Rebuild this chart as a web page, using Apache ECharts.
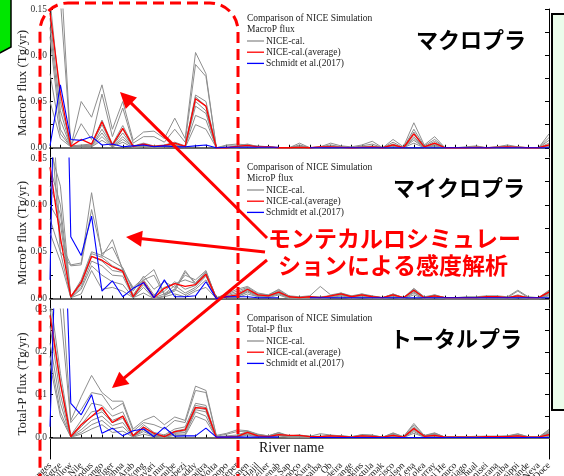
<!DOCTYPE html>
<html><head><meta charset="utf-8">
<script src="https://cdn.jsdelivr.net/npm/echarts@6/dist/echarts.min.js"></script>
<style>html,body{margin:0;padding:0;background:#fff}#c{width:564px;height:476px}</style>
</head><body><div id="c"></div>
<script>
const rivers = ["Ganges","Yangtze","Yellow","Nile","Indus","Congo","Niger","Meghna","Shatt al-Arab","Mekong","Godavari","Amur","Danube","Zambezi","Irrawaddy","Brahmaputra","Volta","Limpopo","Dnieper","Tumen","Hajil","Keller","Chenab","Tonle Sap","Orinoco","Kura","Parnaiba","Ob","Madeira","Orange","Hopkins","Vistula","Kizilirmak","San Francisco","Nelson","Lena","Kolea","Murray","Hai He","Panuco","Santiago","Chual","Yenisei","Parana","Paraiba","Mississippi","Rio Grande","Neva","Rio Doce"];

// MacroP flux (Tg/yr)
const macroSims = [
 [.22,.20,.001,.050,.033,.068,.020,.050,.008,.017,.018,.010,.032,.010,.103,.080,0,.003,.004,.003,.002,.001,0, 0,.005,0,.001,.005,.002,.001,.003,.007,0,.009,.001,.027,.003,.012,0,0,.001,.002,0,.001,.003,.001,0,0,.015],
 [.19,.16,.002,.026,.009,.058,.012,.043,.005,.012,.012,.006,.020,.006,.090,.077,0,.002,.002,.002,.001,.001,0, 0,.003,0,.001,.003,.001,0,.002,.004,0,.006,0,.020,.002,.009,0,0,0,.001,0,.001,.002,.001,0,0,.011],
 [.16,.05,.002,.003,.004,.030,.004,.024,.002,.005,.002,.003,.006,.002,.057,.050,0,0,.002,.004,.001,.001,0, 0,.002,0,0,.002,.001,0,.001,.002,0,.004,0,.017,.001,.007,0,0,0,.001,0,0,.001,0,0,0,.008],
 [.14,.04,.001,.002,.003,.025,.002,.020,.001,.004,.001,.002,.004,.001,.055,.045,0,0,.001,.002,.001,0,0, 0,.001,0,0,.001,0,0,.001,.001,0,.003,0,.015,.001,.005,0,0,0,0,0,0,.001,0,0,0,.005],
 [.13,.03,.001,.002,.002,.020,.002,.016,.001,.003,.001,.002,.003,.001,.050,.040,0,0,.001,.002,0,0,0, 0,.001,0,0,.001,0,0,0,.001,0,.002,0,.012,0,.004,0,0,0,0,0,0,0,0,0,0,.003],
 [.12,.02,.001,.001,.002,.016,.001,.012,.001,.002,.001,.001,.002,.001,.045,.037,0,0,.001,.001,0,0,0, 0,0,0,0,.001,0,0,0,.001,0,.002,0,.010,0,.003,0,0,0,0,0,0,0,0,0,0,.002],
 [.08,.015,.001,.001,.001,.012,.001,.009,.001,.002,.001,.001,.002,.001,.035,.030,0,0,0,.001,0,0,0, 0,0,0,0,0,0,0,0,0,0,.001,0,.008,0,.002,0,0,0,0,0,0,0,0,0,0,.001],
 [.05,.01,.001,.001,.001,.008,.001,.006,0,.001,0,.001,.001,0,.025,.020,0,0,0,.001,0,0,0, 0,0,0,0,0,0,0,0,0,0,.001,0,.005,0,.001,0,0,0,0,0,0,0,0,0,0,.001]
];
const macroAvg = [.146,.059,.0015,.009,.004,.028,.003,.021,.0015,.004,.0015,.0025,.005,.0015,.053,.045,0,0,.0015,.0025,.001,.001,0, 0,.0005,0,.001,.001,.0005,0,.0005,.001,0,.003,0,.015,.001,.005,0,0,0,.0005,0,.0005,.001,.0005,0,0,.003];
const macroSchmidt = [.002,.068,.009,.008,.012,.003,.004,.001,.002,.003,.001,.002,.001,.001,.002,.003,0,.0005,.0005,.0005,.0005,.0005,.0005, null,null,0,0,0,0,0,0,0,0,0,0,0,0,0,0,0,0,0,0,0,0,0,0,0,0];

// MicroP flux (Tg/yr)
const microSims = [
 [.25,.06,.036,.038,.113,.045,.063,.030,.012,.022,.031,.005,.010,.030,.015,.028,.001,.005,.010,.013,.006,.004,.010, .003,.002,.003,.013,.004,.006,.003,.005,.003,.001,.005,.001,.011,.002,.004,.001,.001,.002,.002,.003,.003,.002,.009,.002,.001,.009],
 [.20,.05,.035,.036,.095,.048,.055,.032,.010,.020,.025,.004,.008,.028,.017,.029,.001,.004,.008,.012,.005,.004,.009, .002,.001,.002,.002,.003,.006,.002,.005,.002,.001,.005,.001,.010,.001,.004,.001,.001,.001,.001,.002,.002,.001,.008,.001,.001,.008],
 [.16,.12,.002,.020,.050,.046,.040,.033,.008,.024,.010,.018,.012,.025,.020,.030,0,.003,.006,.011,.004,.003,.008, .002,.001,.002,.001,.003,.005,.002,.004,.002,.001,.004,.001,.009,.001,.003,.001,.001,.001,.001,.002,.002,.001,.004,.001,.001,.007],
 [.14,.10,.002,.018,.048,.044,.035,.030,.004,.020,.004,.012,.016,.020,.016,.028,0,.002,.004,.010,.004,.003,.007, .002,.001,.002,.001,.003,.005,.002,.004,.002,.001,.004,.001,.009,.001,.003,.001,.001,.001,.001,.002,.002,.001,.003,.001,.001,.007],
 [.12,.09,.001,.015,.045,.040,.030,.028,.002,.018,.002,.008,.018,.010,.014,.026,0,.002,.003,.009,.003,.002,.006, .001,.001,.001,.001,.002,.004,.001,.003,.001,0,.003,.001,.008,.001,.002,0,0,.001,.001,.001,.001,.001,.002,.001,0,.006],
 [.10,.08,.001,.012,.040,.035,.025,.024,.001,.015,.001,.005,.014,.006,.012,.024,0,.001,.002,.008,.003,.002,.006, .001,0,.001,0,.002,.004,.001,.003,.001,0,.003,0,.007,0,.002,0,0,0,.001,.001,.001,0,.002,0,0,.005],
 [.085,.05,.001,.010,.035,.025,.018,.015,.001,.012,0,.003,.010,.004,.010,.020,0,.001,.002,.007,.002,.002,.005, .001,0,.001,0,.001,.003,.001,.002,.001,0,.002,0,.006,0,.001,0,0,0,0,.001,.001,0,.001,0,0,.004],
 [.07,.04,.001,.005,.030,.010,.012,.008,.001,.006,0,.002,.005,.002,.008,.012,0,.001,.001,.005,.002,.001,.004, 0,0,0,0,.001,.002,0,.001,0,0,.001,0,.004,0,.001,0,0,0,0,0,0,0,.001,0,0,.003]
];
const microAvg = [.140,.065,.002,.017,.045,.041,.034,.029,.002,.018,.001,.011,.016,.013,.015,.026,0,.002,.004,.010,.004,.003,.007, .002,.001,.002,.001,.003,.005,.002,.004,.002,.001,.004,.001,.009,.001,.003,.001,.001,.001,.001,.002,.002,.001,.003,.001,.001,.007];
const microSchmidt = [.02,.57,.066,.046,.088,.008,.019,.002,.011,.017,.001,.020,.002,.002,.003,.018,0,.002,.002,.002,.001,.001,.001, null,null,.001,.001,.001,.001,.001,.001,.001,.001,.001,.001,.001,.001,.001,.001,.001,.001,.001,.001,.001,.001,.001,.001,.001,.001];

// Total-P flux (Tg/yr)
const totalSims = [
 [.45,.40,.040,.095,.145,.105,.085,.085,.020,.040,.050,.030,.048,.040,.120,.110,.005,.010,.018,.016,.008,.004,.012, .004,.006,.003,.009,.006,.004,.002,.007,.006,.001,.011,.002,.033,.005,.011,.001,.002,.002,.003,.003,.003,.004,.009,.002,.001,.019],
 [.38,.30,.035,.065,.105,.100,.065,.080,.015,.035,.030,.020,.040,.035,.110,.105,.003,.008,.014,.015,.007,.004,.011, .003,.005,.003,.003,.005,.004,.002,.006,.005,.001,.010,.002,.029,.004,.010,.001,.002,.002,.002,.003,.003,.003,.008,.002,.001,.016],
 [.33,.15,.005,.040,.080,.075,.050,.060,.006,.030,.012,.006,.020,.025,.080,.075,.001,.004,.006,.014,.006,.003,.009, .003,.004,.002,.002,.004,.003,.001,.005,.004,.001,.008,.001,.025,.003,.009,.001,.001,.001,.002,.002,.002,.003,.006,.001,.001,.013],
 [.30,.13,.003,.030,.060,.065,.040,.050,.004,.025,.008,.004,.015,.020,.075,.070,.001,.002,.004,.013,.005,.003,.008, .002,.003,.002,.002,.004,.003,.001,.004,.003,.001,.006,.001,.022,.003,.008,.001,.001,.001,.002,.002,.002,.002,.005,.001,.001,.011],
 [.26,.10,.002,.025,.050,.060,.035,.045,.003,.022,.006,.003,.012,.016,.070,.065,0,.002,.003,.012,.004,.002,.007, .002,.002,.002,.001,.003,.003,.001,.004,.003,.001,.005,.001,.020,.002,.007,.001,.001,.001,.001,.002,.002,.002,.004,.001,.001,.009],
 [.22,.08,.002,.018,.040,.050,.028,.035,.002,.018,.004,.002,.010,.012,.065,.060,0,.001,.002,.010,.004,.002,.006, .002,.002,.001,.001,.003,.002,.001,.003,.002,0,.004,.001,.017,.002,.006,0,.001,.001,.001,.001,.001,.001,.003,.001,0,.007],
 [.19,.06,.002,.012,.030,.040,.020,.025,.002,.014,.003,.001,.008,.008,.060,.050,0,.001,.002,.008,.003,.002,.005, .001,.001,.001,.001,.002,.002,0,.002,.002,0,.003,0,.014,.001,.004,0,0,0,.001,.001,.001,.001,.002,0,0,.005],
 [.17,.05,.001,.008,.020,.030,.012,.015,.001,.008,.002,.001,.005,.005,.050,.040,0,0,.001,.006,.002,.001,.004, .001,.001,0,0,.001,.001,0,.001,.001,0,.002,0,.010,.001,.003,0,0,0,0,0,0,.001,.001,0,0,.003]
];
const totalAvg = [.285,.126,.002,.030,.049,.070,.035,.050,.004,.024,.010,.002,.014,.018,.070,.068,0,.001,.002,.012,.004,.002,.007, .005,.005,.002,.002,.004,.003,.001,.004,.003,.001,.005,.001,.021,.003,.005,.001,.001,.001,.001,.002,.002,.002,.004,.001,.001,.007];
const totalSchmidt = [.025,.8,.08,.053,.1,.01,.022,.004,.016,.02,.002,.024,.003,.004,.004,.022,.001,.001,.001,.001,.001,.001,.001, null,null,0,0,0,0,0,0,0,0,0,0,0,0,0,0,0,0,0,0,0,0,0,0,0,0];

const panelNames = ["MacroP flux (Tg/yr)","MicroP flux (Tg/yr)","Total-P flux (Tg/yr)"];
const panelTitles = ["MacroP flux","MicroP flux","Total-P flux"];
const yMins = [-0.01,-0.01,-0.05];
const yMaxs = [0.15,0.15,0.3];
const yLabelVals = [[0,0.05,0.1,0.15],[0,0.05,0.1,0.15],[0,0.1,0.2,0.3]];
const yTickVals = [[0,0.025,0.05,0.075,0.1,0.125,0.15],[0,0.025,0.05,0.075,0.1,0.125,0.15],[0,0.05,0.1,0.15,0.2,0.25,0.3]];
const yDecimals = [2,2,1];
const legendNames = ["NICE-cal.","NICE-cal.(average)","Schmidt et al.(2017)"];
const xTitle = "River name";

const SERIF = "Liberation Serif";
const JP = "Noto Sans CJK JP";
const grids = [{top:9,height:148},{top:158,height:150},{top:309,height:150}];

const chart = echarts.init(document.getElementById('c'), null, {renderer:'canvas'});
const xAxes = [], yAxes = [], series = [], gridOpts = [], legends = [], titles = [];
const panels = [[macroSims,macroAvg,macroSchmidt],[microSims,microAvg,microSchmidt],[totalSims,totalAvg,totalSchmidt]];

grids.forEach((g,i)=>{
  gridOpts.push({left:50,right:15,top:g.top,height:g.height,show:false,containLabel:false,outerBoundsMode:'none'});
  const last = i===2;
  xAxes.push({type:'category',gridIndex:i,data:rivers,boundaryGap:false,position:'bottom',
    axisLine:{lineStyle:{color:'#000',width:1}},
    axisTick:{show:true,inside:true,length:3,interval:0,lineStyle:{color:'#000'}},
    axisLabel:{show:last,interval:0,rotate:45,fontSize:9.5,fontFamily:SERIF,color:'#222',margin:5,hideOverlap:false},
    splitLine:{show:false}});
  xAxes.push({type:'category',gridIndex:i,data:rivers,boundaryGap:false,position:'top',
    axisLine:{lineStyle:{color:'#6a6a6a',width:2}},axisTick:{show:false},axisLabel:{show:false},splitLine:{show:false}});
  const dec = yDecimals[i];
  yAxes.push({type:'value',gridIndex:i,min:yMins[i],max:yMaxs[i],position:'left',
    name:panelNames[i],nameLocation:'middle',nameGap:21,nameMoveOverlap:false,
    nameTextStyle:{fontFamily:SERIF,fontSize:13,color:'#222'},
    axisLine:{show:true,lineStyle:{color:'#000'}},
    axisTick:{show:true,inside:true,length:3,customValues:yTickVals[i],lineStyle:{color:'#000'}},
    axisLabel:{show:true,customValues:yLabelVals[i],formatter:v=>Number(v).toFixed(dec),fontFamily:SERIF,fontSize:9.5,color:'#333',margin:3},
    splitLine:{show:false}});
  yAxes.push({type:'value',gridIndex:i,min:yMins[i],max:yMaxs[i],position:'right',
    axisLine:{show:true,lineStyle:{color:'#000'}},
    axisTick:{show:true,inside:true,length:4,customValues:yTickVals[i],lineStyle:{color:'#000'}},
    axisLabel:{show:false},splitLine:{show:false}});
  const [sims,avg,ref] = panels[i];
  sims.forEach(s=>series.push({type:'line',name:legendNames[0],xAxisIndex:i*2,yAxisIndex:i*2,data:s,symbol:'none',showSymbol:false,
    lineStyle:{color:'#8e8e8e',width:1},itemStyle:{color:'#8e8e8e'},silent:true,z:2}));
  series.push({type:'line',name:legendNames[1],xAxisIndex:i*2,yAxisIndex:i*2,data:avg,symbol:'none',showSymbol:false,
    lineStyle:{color:'#ff0000',width:1.3},itemStyle:{color:'#ff0000'},silent:true,z:3});
  series.push({type:'line',name:legendNames[2],xAxisIndex:i*2,yAxisIndex:i*2,data:ref,symbol:'none',showSymbol:false,connectNulls:false,
    lineStyle:{color:'#0000ff',width:1.1},itemStyle:{color:'#0000ff'},silent:true,z:4});
  titles.push({text:'Comparison of NICE Simulation\n'+panelTitles[i],left:247,top:g.top+3.5,padding:0,
    textStyle:{fontFamily:SERIF,fontSize:9.5,fontWeight:'normal',color:'#222',lineHeight:11.2}});
  legends.push({data:legendNames,orient:'vertical',left:247,top:g.top+26.4,padding:0,icon:'rect',itemWidth:17,itemHeight:1.3,itemGap:0,
    textStyle:{fontFamily:SERIF,fontSize:9.5,color:'#222',lineHeight:11.2,padding:[0,0,0,-3]},selectedMode:false});
});

function arrow(x1,y1,x2,y2){
  const dx=x2-x1, dy=y2-y1, L=Math.hypot(dx,dy), ux=dx/L, uy=dy/L, hl=16, hw=8;
  const bx=x2-ux*hl, by=y2-uy*hl;
  return [
    {type:'line',z:100,shape:{x1:x1,y1:y1,x2:bx+ux*2,y2:by+uy*2},style:{stroke:'#ff0000',lineWidth:3}},
    {type:'polygon',z:100,shape:{points:[[x2,y2],[bx-uy*hw,by+ux*hw],[bx+uy*hw,by-ux*hw]]},style:{fill:'#ff0000'}}
  ];
}

const graphics = [
  {type:'polygon',z:100,shape:{points:[[-2,-2],[11,-2],[11,47],[-2,54]]},style:{fill:'#00e600',stroke:'#000',lineWidth:1.5}},
  {type:'rect',z:100,shape:{x:552,y:14,width:20,height:396},style:{fill:'#ebfdeb',stroke:'#000',lineWidth:2}},
  {type:'text',z:99,style:{x:259,y:448,text:xTitle,font:'14px "'+SERIF+'"',fill:'#111',verticalAlign:'middle'}},
  {type:'rect',z:101,shape:{x:40,y:3,width:198,height:500,r:28},style:{fill:'none',stroke:'#ff0000',lineWidth:3,lineDash:[11,6]}},
  ...arrow(267,238,120,92),
  ...arrow(265,252,126,237),
  ...arrow(267,260,112,388),
  {type:'text',z:102,style:{x:416,y:40,text:'マクロプラ',font:'bold 22px "'+JP+'"',fill:'#000',verticalAlign:'middle'}},
  {type:'text',z:102,style:{x:393,y:188,text:'マイクロプラ',font:'bold 22px "'+JP+'"',fill:'#000',verticalAlign:'middle'}},
  {type:'text',z:102,style:{x:390,y:339,text:'トータルプラ',font:'bold 22px "'+JP+'"',fill:'#000',verticalAlign:'middle'}},
  {type:'text',z:102,style:{x:268,y:238,text:'モンテカルロシミュレー',font:'bold 23px "'+JP+'"',fill:'#ff0000',verticalAlign:'middle'}},
  {type:'text',z:102,style:{x:278,y:265,text:'ションによる感度解析',font:'bold 23px "'+JP+'"',fill:'#ff0000',verticalAlign:'middle'}}
];

chart.setOption({
  animation:false,
  backgroundColor:'#fff',
  title:titles,
  legend:legends,
  grid:gridOpts,
  xAxis:xAxes,
  yAxis:yAxes,
  series:series,
  graphic:graphics
});
</script></body></html>
